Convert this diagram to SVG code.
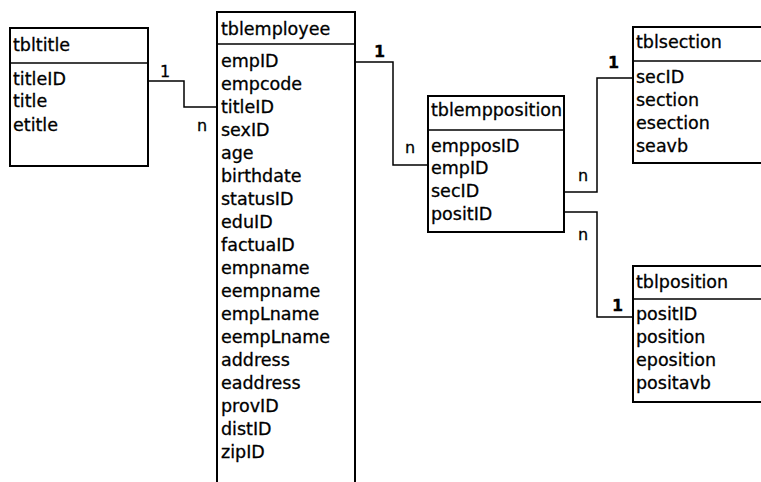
<svg xmlns="http://www.w3.org/2000/svg" width="761" height="482" viewBox="0 0 761 482">
<style>
  .box { fill: #fff; stroke: #000; stroke-width: 2; }
  .sep { stroke: #000; stroke-width: 1.5; fill: none; }
  .t { font-family: "DejaVu Sans", Verdana, sans-serif; font-size: 17.5px; fill: #000; stroke: #000; stroke-width: 0.3; }
  .lbl { font-family: "DejaVu Sans", Verdana, sans-serif; font-size: 16px; fill: #000; stroke: #000; stroke-width: 0.3; }
  .conn { stroke: #000; stroke-width: 1.5; fill: none; }
</style>
<rect width="761" height="482" fill="#fff"/>
<g id="connectors">
  <polyline class="conn" points="148,81 184,81 184,107 217,107"/>
  <polyline class="conn" points="355,62 393,62 393,165 428,165"/>
  <polyline class="conn" points="564,192 597,192 597,78 633,78"/>
  <polyline class="conn" points="564,212 597,212 597,317 633,317"/>
  <text class="lbl" x="160" y="77">1</text>
  <text class="lbl" x="197" y="131">n</text>
  <text class="lbl" x="374" y="57" font-weight="bold">1</text>
  <text class="lbl" x="405" y="153">n</text>
  <text class="lbl" x="578" y="181">n</text>
  <text class="lbl" x="608" y="68" font-weight="bold">1</text>
  <text class="lbl" x="578" y="240">n</text>
  <text class="lbl" x="612" y="311" font-weight="bold">1</text>
</g>
<g id="tbltitle">
  <rect class="box" x="10" y="28" width="138" height="138"/>
  <line class="sep" x1="10" y1="63" x2="148" y2="63"/>
  <text class="t" x="13" y="51">tbltitle</text>
  <text class="t" x="13" y="85">titleID</text>
  <text class="t" x="13" y="107">title</text>
  <text class="t" x="13" y="131">etitle</text>
</g>
<g id="tblemployee">
  <rect class="box" x="217" y="12" width="138" height="480"/>
  <line class="sep" x1="217" y1="44" x2="355" y2="44"/>
  <text class="t" x="221" y="35">tblemployee</text>
  <text class="t" x="221" y="67">empID</text>
  <text class="t" x="221" y="90">empcode</text>
  <text class="t" x="221" y="113">titleID</text>
  <text class="t" x="221" y="136">sexID</text>
  <text class="t" x="221" y="159">age</text>
  <text class="t" x="221" y="182">birthdate</text>
  <text class="t" x="221" y="205">statusID</text>
  <text class="t" x="221" y="228">eduID</text>
  <text class="t" x="221" y="251">factuaID</text>
  <text class="t" x="221" y="274">empname</text>
  <text class="t" x="221" y="297">eempname</text>
  <text class="t" x="221" y="320">empLname</text>
  <text class="t" x="221" y="343">eempLname</text>
  <text class="t" x="221" y="366">address</text>
  <text class="t" x="221" y="389">eaddress</text>
  <text class="t" x="221" y="412">provID</text>
  <text class="t" x="221" y="435">distID</text>
  <text class="t" x="221" y="458">zipID</text>
</g>
<g id="tblempposition">
  <rect class="box" x="428" y="96" width="136" height="136"/>
  <line class="sep" x1="428" y1="130" x2="564" y2="130"/>
  <text class="t" x="431" y="116">tblempposition</text>
  <text class="t" x="431" y="152">empposID</text>
  <text class="t" x="431" y="174">empID</text>
  <text class="t" x="431" y="197">secID</text>
  <text class="t" x="431" y="220">positID</text>
</g>
<g id="tblsection">
  <rect class="box" x="633" y="27" width="140" height="136"/>
  <line class="sep" x1="633" y1="61" x2="773" y2="61"/>
  <text class="t" x="636" y="48">tblsection</text>
  <text class="t" x="636" y="83">secID</text>
  <text class="t" x="636" y="106">section</text>
  <text class="t" x="636" y="129">esection</text>
  <text class="t" x="636" y="152">seavb</text>
</g>
<g id="tblposition">
  <rect class="box" x="633" y="266" width="140" height="136"/>
  <line class="sep" x1="633" y1="299" x2="773" y2="299"/>
  <text class="t" x="636" y="288">tblposition</text>
  <text class="t" x="636" y="320">positID</text>
  <text class="t" x="636" y="343">position</text>
  <text class="t" x="636" y="366">eposition</text>
  <text class="t" x="636" y="389">positavb</text>
</g>
</svg>
